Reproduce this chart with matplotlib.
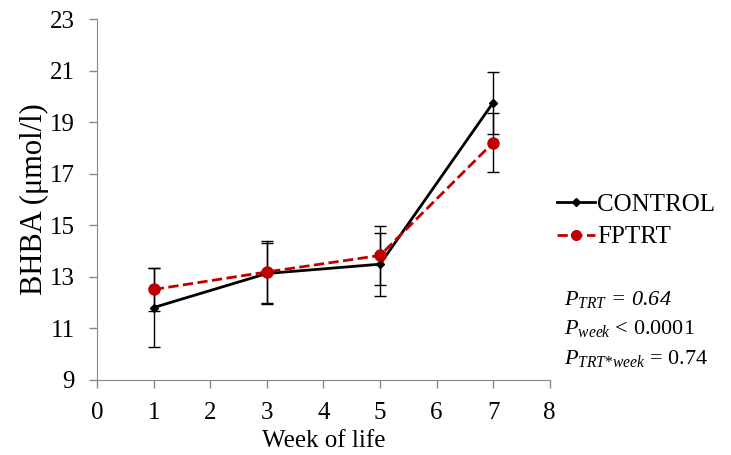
import numpy as np
import matplotlib.pyplot as plt
from matplotlib.lines import Line2D

plt.rcParams['font.family'] = 'Liberation Serif'
plt.rcParams['mathtext.fontset'] = 'custom'
plt.rcParams['mathtext.rm'] = 'Liberation Serif'
plt.rcParams['mathtext.it'] = 'Liberation Serif:italic'

weeks = [1, 3, 5, 7]
control = [11.81, 13.13, 13.49, 19.76]
control_err = [1.55, 1.2, 1.22, 1.2]
fptrt = [12.51, 13.19, 13.83, 18.21]
fptrt_err = [0.84, 1.2, 1.13, 1.14]

fig = plt.figure(figsize=(7.31, 4.55), dpi=100)
ax = fig.add_axes([0.133, 0.165, 0.619, 0.793])

ax.errorbar(weeks, control, yerr=control_err, color='black', lw=2,
            marker='D', ms=4, capsize=4, elinewidth=1, ecolor='black')
ax.errorbar(weeks, fptrt, yerr=fptrt_err, color='#c00000', lw=2, ls='--',
            marker='o', ms=8, capsize=4, elinewidth=1, ecolor='black')

ax.set_xlim(0, 8)
ax.set_ylim(9, 23)
ax.set_xticks(range(0, 9))
ax.set_yticks(range(9, 24, 2))
ax.tick_params(labelsize=18, color='#888888', length=6, width=1)
ax.tick_params(axis='x', pad=10)
ax.tick_params(axis='y', pad=10)
for s in ['top', 'right']:
    ax.spines[s].set_visible(False)
for s in ['left', 'bottom']:
    ax.spines[s].set_color('#888888')

ax.set_xlabel('Week of life', fontsize=18, labelpad=4)
ax.set_ylabel('BHBA (μmol/l)', fontsize=22, labelpad=1)

handles = [Line2D([], [], color='black', lw=2, marker='D', ms=4),
           Line2D([], [], color='#c00000', lw=2, ls='--', marker='o', ms=7)]
ax.legend(handles, ['CONTROL', 'FPTRT'], loc='upper left',
          bbox_to_anchor=(0.995, 0.545), frameon=False, fontsize=18,
          handlelength=1.5, handletextpad=0.1, labelspacing=0.4,
          borderaxespad=0)

fig.text(0.772, 0.33, r'$P_{TRT}$ = 0.64', fontsize=16, style='italic')
fig.text(0.772, 0.265, r'$P_{week}$ < 0.0001', fontsize=16)
fig.text(0.772, 0.20, r'$P_{TRT{*}week}$ = 0.74', fontsize=16)

fig.savefig('out.png', dpi=100)
